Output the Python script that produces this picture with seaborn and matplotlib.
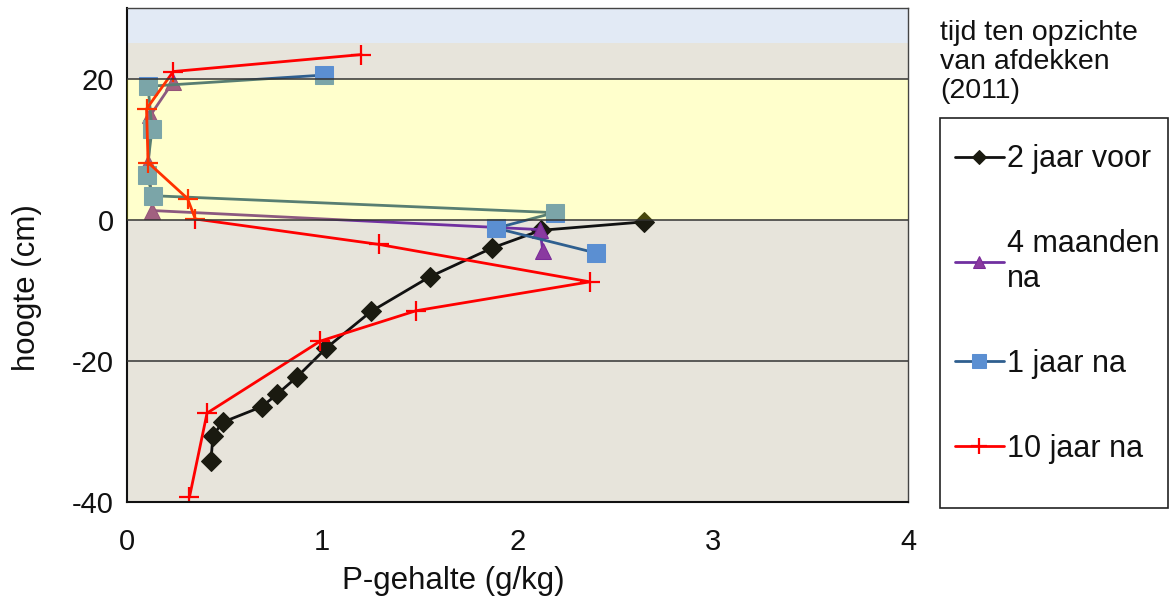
import matplotlib
matplotlib.use("Agg")
import matplotlib.pyplot as plt
import seaborn as sns
import pandas as pd
from matplotlib.patches import Rectangle

# P-gehalte (g/kg) against hoogte (cm), per survey moment
voor2_x = [2.65, 2.12, 1.87, 1.55, 1.25, 1.02, 0.87, 0.77, 0.69, 0.49, 0.44, 0.43]
voor2_y = [-0.3, -1.5, -4.0, -8.1, -13.0, -18.2, -22.3, -24.7, -26.5, -28.7, -30.6, -34.2]

mnd4_x = [0.235, 0.12, 0.11, 0.13, 2.115, 2.13]
mnd4_y = [19.5, 14.8, 8.1, 1.3, -1.4, -4.5]

jaar1_x = [1.01, 0.108, 0.128, 0.10, 0.133, 2.19, 1.89, 2.40]
jaar1_y = [20.5, 18.9, 12.8, 6.4, 3.4, 1.0, -1.2, -4.7]

jaar10_x = [1.20, 0.237, 0.10, 0.108, 0.31, 0.35, 1.29, 2.37, 1.48, 0.99, 0.41, 0.32]
jaar10_y = [23.4, 21.0, 15.7, 8.1, 3.0, 0.1, -3.5, -8.8, -12.9, -17.2, -27.4, -39.3]

labels = ["2 jaar voor", "4 maanden\nna", "1 jaar na", "10 jaar na"]
x_ticks = [0, 1, 2, 3, 4]
y_ticks = [-40, -20, 0, 20]

sns.set_theme(style="white")
plt.rcParams["font.family"] = ["Liberation Sans", "DejaVu Sans"]
plt.rcParams["axes.unicode_minus"] = False
fs = 21

W, H = 1170, 601
fig = plt.figure(figsize=(W / 100, H / 100), dpi=100)
ax = fig.add_axes([127 / W, 1 - 502 / H, (908 - 127) / W, (502 - 8) / H])

# background bands
ax.axhspan(-40, 0, color="#e7e4db", lw=0, zorder=0)
ax.axhspan(20, 25, color="#e7e4db", lw=0, zorder=0)
ax.axhspan(25, 30, color="#e2eaf5", lw=0, zorder=0)

series = [
    (voor2_x, voor2_y, dict(color="#111111", marker="D", markersize=10,
                            markerfacecolor="#1a1a10", markeredgecolor="#1a1a10")),
    (mnd4_x, mnd4_y, dict(color="#7030a0", marker="^", markersize=12,
                          markerfacecolor="#8a3aa0", markeredgecolor="#7a2a98")),
    (jaar1_x, jaar1_y, dict(color="#2f5f8f", marker="s", markersize=13,
                            markerfacecolor="#5b8fd2", markeredgecolor="#5b8fd2")),
    (jaar10_x, jaar10_y, dict(color="#ff0000", marker="+", markersize=15,
                              markeredgewidth=1.6, markeredgecolor="#ff0000")),
]

for (xs, ys, style), lab in zip(series, labels):
    df = pd.DataFrame({"P": xs, "h": ys})
    sns.lineplot(data=df, x="P", y="h", sort=False, estimator=None, ax=ax,
                 linewidth=2, label=lab, zorder=2, **style)

# yellow layer 0-20 cm sits over the data, semi transparent
ax.axhspan(0, 20, color=(1, 1, 0), alpha=0.2, lw=0, zorder=3)

for yv in [20, 0, -20]:
    ax.axhline(yv, color="#333333", lw=1.1, zorder=4)

ax.set_xlim(0, 4)
ax.set_ylim(-40, 30)
ax.set_xticks(x_ticks)
ax.set_yticks(y_ticks)
ax.tick_params(axis="both", direction="out", length=6, width=1, colors="#222222",
               labelsize=fs, labelcolor="#111111")
ax.tick_params(axis="x", pad=13)
ax.set_xlabel("P-gehalte (g/kg)", fontsize=22.5, color="#111111", va="center")
ax.xaxis.set_label_coords((453 - 127) / 781, -(581 - 502) / 494)
ax.set_ylabel("hoogte (cm)", fontsize=22.5, color="#111111", va="center")
ax.yaxis.set_label_coords((27 - 127) / 781, (502 - 288) / 494)
for side in ["left", "bottom"]:
    ax.spines[side].set_color("#111111")
    ax.spines[side].set_linewidth(1.5)
for side in ["top", "right"]:
    ax.spines[side].set_color("#444444")
    ax.spines[side].set_linewidth(1)

handles, lbls = ax.get_legend_handles_labels()
leg = ax.legend(handles, lbls, loc="upper left",
                bbox_to_anchor=(929 / W, 1 - 118 / H),
                bbox_transform=fig.transFigure,
                fontsize=22, frameon=False, labelspacing=1.8,
                handlelength=1.58, handletextpad=0.1, borderpad=0.86,
                borderaxespad=0, markerscale=0.75)
for t in leg.get_texts():
    t.set_color("#111111")

# legend box drawn separately so it can run down to the axis bottom
fig.patches.append(Rectangle((940 / W, 1 - 508 / H), 228 / W, 390 / H,
                             transform=fig.transFigure, fill=False,
                             edgecolor="#222222", lw=1.2))

fig.text(940 / W, 1 - 20 / H, "tijd ten opzichte\nvan afdekken\n(2011)",
         fontsize=20.5, va="top", ha="left", color="#111111", linespacing=1.15)

fig.savefig("out.png", dpi=100)
